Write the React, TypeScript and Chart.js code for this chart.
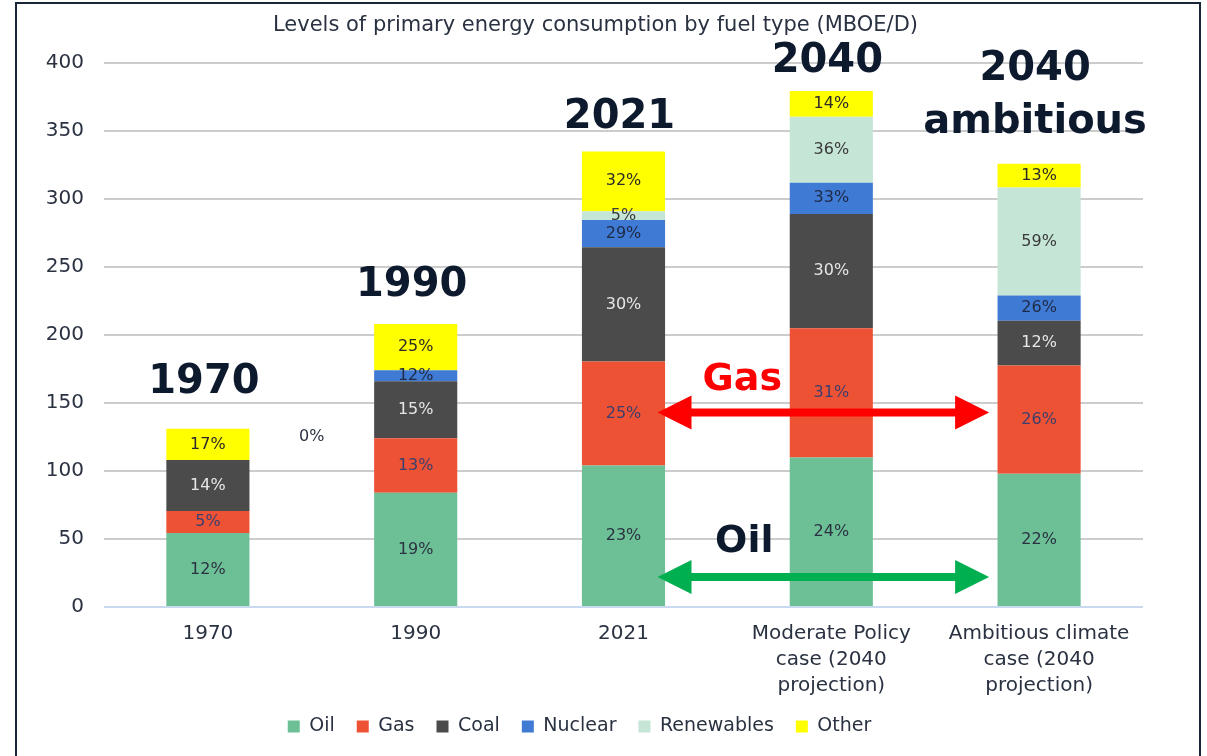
import React, { useEffect, useRef } from "react";
import { Chart, registerables } from "chart.js";

Chart.register(...registerables);

const FONT = "'DejaVu Sans', sans-serif";
const TEXT = "#2a3242";
const NAVY = "#0d1a2e";

const categories: (string | string[])[] = [
  "1970",
  "1990",
  "2021",
  ["Moderate Policy", "case (2040", "projection)"],
  ["Ambitious climate", "case (2040", "projection)"],
];
const chartTitle = "Levels of primary energy consumption by fuel type (MBOE/D)";
const seriesNames = ["Oil", "Gas", "Coal", "Nuclear", "Renewables", "Other"];
const oil = [54.5, 84, 104, 110, 98];
const gas = [16, 40, 76.5, 95, 79.5];
const coal = [37.5, 42, 84, 84, 33];
const nuclear = [0, 8, 20, 23, 18.5];
const renewables = [0, 0, 6.5, 48.5, 79.5];
const other = [23, 34, 44, 19, 17.5];

const oilPct = ["12%", "19%", "23%", "24%", "22%"];
const gasPct = ["5%", "13%", "25%", "31%", "26%"];
const coalPct = ["14%", "15%", "30%", "30%", "12%"];
const nuclearPct = ["", "12%", "29%", "33%", "26%"];
const renewablesPct = ["", "", "5%", "36%", "59%"];
const otherPct = ["17%", "25%", "32%", "14%", "13%"];

const colors = ["#6dbf96", "#ee5235", "#4b4b4b", "#3f7ad4", "#c5e5d6", "#ffff00"];
const labelColors = ["#2a3242", "#3b3f6e", "#e6e6e6", "#1f2a44", "#3a3a3a", "#2a2a2a"];

// big annotations: text lines, category index, value of first line center
const yearLabels: { lines: string[]; idx: number; v: number }[] = [
  { lines: ["1970"], idx: 0, v: 165 },
  { lines: ["1990"], idx: 1, v: 236.5 },
  { lines: ["2021"], idx: 2, v: 359.5 },
  { lines: ["2040"], idx: 3, v: 400.7 },
  { lines: ["2040", "ambitious"], idx: 4, v: 394.8 },
];
const strayLabel = { text: "0%", idx: 0.5, v: 125 };
const gasArrow = { label: "Gas", labelV: 166.5, v: 143 };
const oilArrow = { label: "Oil", labelV: 48, v: 22 };

export default function App() {
  const ref = useRef<HTMLCanvasElement | null>(null);

  useEffect(() => {
    if (!ref.current) return;
    const pctSets = [oilPct, gasPct, coalPct, nuclearPct, renewablesPct, otherPct];
    const values = [oil, gas, coal, nuclear, renewables, other];

    const frame = {
      id: "frame",
      afterDraw(chart: any) {
        const c = chart.ctx;
        c.save();
        c.strokeStyle = "#1b2538";
        c.lineWidth = 2;
        c.strokeRect(16, 3, 1184, 800);
        c.fillStyle = TEXT;
        c.font = `21px ${FONT}`;
        c.textAlign = "center";
        c.textBaseline = "middle";
        c.fillText(chartTitle, chart.width / 2 - 8, 26);
        c.restore();
      },
    };

    const dataLabels = {
      id: "dataLabels",
      afterDatasetsDraw(chart: any) {
        const c = chart.ctx;
        c.save();
        c.font = `16px ${FONT}`;
        c.textAlign = "center";
        c.textBaseline = "middle";
        chart.data.datasets.forEach((ds: any, di: number) => {
          const meta = chart.getDatasetMeta(di);
          meta.data.forEach((el: any, i: number) => {
            const t = pctSets[di][i];
            if (!t) return;
            c.fillStyle = labelColors[di];
            c.fillText(t, el.x, (el.y + el.base) / 2);
          });
        });
        c.restore();
      },
    };

    const annotations = {
      id: "annotations",
      afterDraw(chart: any) {
        const c = chart.ctx;
        const xs = chart.scales.x;
        const ys = chart.scales.y;
        c.save();
        c.textAlign = "center";
        c.textBaseline = "middle";
        c.fillStyle = NAVY;
        c.font = `bold 40px ${FONT}`;
        yearLabels.forEach((yl) => {
          const x = xs.getPixelForValue(yl.idx) - 4;
          const y0 = ys.getPixelForValue(yl.v);
          yl.lines.forEach((ln, k) => c.fillText(ln, x, y0 + k * 53));
        });
        c.font = `16px ${FONT}`;
        c.fillStyle = TEXT;
        const sx = (xs.getPixelForValue(0) + xs.getPixelForValue(1)) / 2;
        c.fillText(strayLabel.text, sx, ys.getPixelForValue(strayLabel.v));

        const x1 = xs.getPixelForValue(2) + 34;
        const x2 = xs.getPixelForValue(4) - 50;
        const drawArrow = (y: number, color: string) => {
          const hw = 34, hh = 17, th = 4;
          c.fillStyle = color;
          c.beginPath();
          c.moveTo(x1, y);
          c.lineTo(x1 + hw, y - hh);
          c.lineTo(x1 + hw, y - th);
          c.lineTo(x2 - hw, y - th);
          c.lineTo(x2 - hw, y - hh);
          c.lineTo(x2, y);
          c.lineTo(x2 - hw, y + hh);
          c.lineTo(x2 - hw, y + th);
          c.lineTo(x1 + hw, y + th);
          c.lineTo(x1 + hw, y + hh);
          c.closePath();
          c.fill();
        };
        drawArrow(ys.getPixelForValue(gasArrow.v), "#ff0000");
        drawArrow(ys.getPixelForValue(oilArrow.v), "#00b050");
        const mx = xs.getPixelForValue(3) - 89;
        c.font = `bold 38px ${FONT}`;
        c.fillStyle = "#ff0000";
        c.fillText(gasArrow.label, mx, ys.getPixelForValue(gasArrow.labelV));
        c.fillStyle = NAVY;
        c.fillText(oilArrow.label, mx + 2, ys.getPixelForValue(oilArrow.labelV));
        c.restore();
      },
    };

    const chart = new Chart(ref.current, {
      type: "bar",
      data: {
        labels: categories as any,
        datasets: seriesNames.map((n, i) => ({
          label: n,
          data: values[i],
          backgroundColor: colors[i],
          borderWidth: 0,
          barPercentage: 0.4,
          categoryPercentage: 1,
        })),
      },
      options: {
        animation: false,
        responsive: false,
        maintainAspectRatio: false,
        layout: { padding: { left: 16, right: 64, top: 63, bottom: 10 } },
        plugins: {
          title: { display: false },
          legend: {
            position: "bottom",
            labels: {
              color: TEXT,
              font: { family: FONT, size: 19 },
              boxWidth: 12,
              boxHeight: 12,
              padding: 22,
            },
          },
          tooltip: { enabled: false },
        },
        scales: {
          x: {
            stacked: true,
            grid: { display: false },
            border: { display: false },
            ticks: {
              color: TEXT,
              font: { family: FONT, size: 20, lineHeight: 1.3 },
              padding: 6,
              maxRotation: 0,
              autoSkip: false,
            },
            afterFit(scale: any) {
              scale.height = 88;
            },
          },
          y: {
            stacked: true,
            min: 0,
            max: 400,
            ticks: {
              stepSize: 50,
              color: TEXT,
              font: { family: FONT, size: 20 },
              padding: 20,
            },
            grid: {
              color: (ctx: any) => (ctx.tick && ctx.tick.value === 0 ? "#c9daf0" : "#cccccc"),
              lineWidth: 2,
              drawTicks: false,
            },
            border: { display: false },
            afterFit(scale: any) {
              scale.width = 88;
            },
          },
        },
      },
      plugins: [dataLabels, annotations, frame],
    });
    return () => chart.destroy();
  }, []);

  return (
    <div style={{ position: "fixed", left: 0, top: 0, width: 1207, height: 756, background: "#fff" }}>
      <canvas ref={ref} width={1207} height={756} style={{ display: "block" }} />
    </div>
  );
}
